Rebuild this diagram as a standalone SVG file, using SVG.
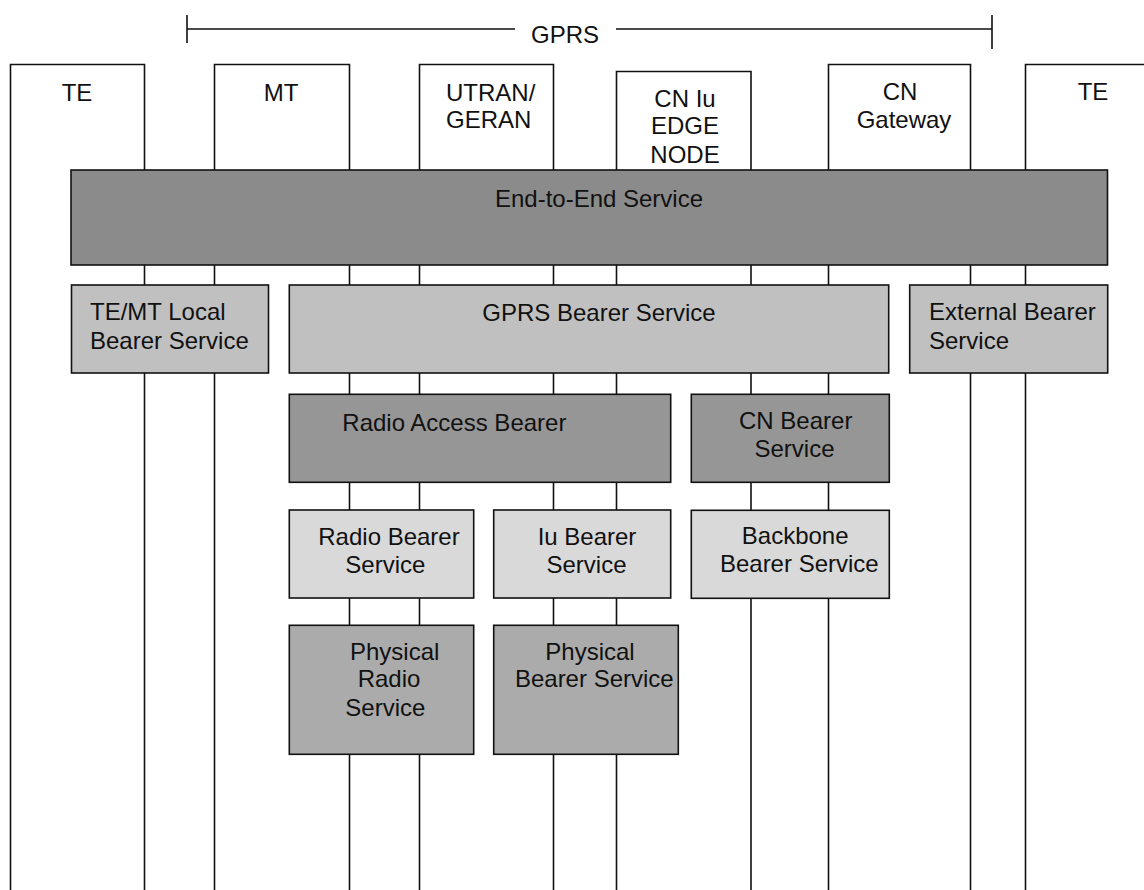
<svg xmlns="http://www.w3.org/2000/svg" width="1144" height="890" viewBox="0 0 1144 890">
<style>
.col{fill:none;stroke:#111;stroke-width:1.6}
.box{stroke:#111;stroke-width:1.6}
.dark{fill:#8b8b8b}
.mid{fill:#969696}
.light{fill:#c0c0c0}
.pale{fill:#d9d9d9}
.phys{fill:#ababab}
text{font-family:"Liberation Sans",Arial,sans-serif;font-size:24px;fill:#111}
.c{text-anchor:middle}
</style>
<rect width="1144" height="890" fill="#fff"/>
<g id="gprs-span">
<path class="col" d="M187,15 V43 M187,29 H515 M616,29 H992 M992,15 V49"/>
<text class="c" x="565" y="43">GPRS</text>
</g>
<g id="columns">
<g id="te-left"><path class="col" d="M10.5,890 V64.5 H144.5 V890"/><text class="c" x="77" y="101">TE</text></g>
<g id="mt"><path class="col" d="M214.5,890 V64.5 H349.5 V890"/><text class="c" x="281" y="101">MT</text></g>
<g id="utran"><path class="col" d="M419.5,890 V64.5 H553.5 V890"/><text x="446" y="101">UTRAN/</text><text x="446" y="128">GERAN</text></g>
<g id="cn-iu"><path class="col" d="M616.5,890 V71.5 H751 V890"/><text class="c" x="685" y="107">CN Iu</text><text class="c" x="685" y="134">EDGE</text><text class="c" x="685" y="162.5">NODE</text></g>
<g id="cn-gateway"><path class="col" d="M828.5,890 V64.5 H970.5 V890"/><text class="c" x="900" y="100">CN</text><text class="c" x="904" y="128">Gateway</text></g>
<g id="te-right"><path class="col" d="M1025.5,890 V64.5 H1146"/><text class="c" x="1093" y="100">TE</text></g>
</g>
<g id="end-to-end"><rect class="box dark" x="71" y="170" width="1036.5" height="95"/><text class="c" x="599" y="207">End-to-End Service</text></g>
<g id="te-mt-local"><rect class="box light" x="71.5" y="285" width="197" height="88"/><text x="90" y="320">TE/MT Local</text><text x="90" y="348.5">Bearer Service</text></g>
<g id="gprs-bearer"><rect class="box light" x="289.3" y="285" width="599.4" height="88"/><text class="c" x="599" y="320.5">GPRS Bearer Service</text></g>
<g id="external-bearer"><rect class="box light" x="909.7" y="285" width="198" height="88"/><text x="929" y="320">External Bearer</text><text x="929" y="348.5">Service</text></g>
<g id="radio-access-bearer"><rect class="box mid" x="289.3" y="394.3" width="381.4" height="88"/><text x="342.3" y="430.5">Radio Access Bearer</text></g>
<g id="cn-bearer"><rect class="box mid" x="691.3" y="394.3" width="198" height="88"/><text class="c" x="795.7" y="429">CN Bearer</text><text class="c" x="794.5" y="457.3">Service</text></g>
<g id="radio-bearer"><rect class="box pale" x="289.3" y="510" width="184.4" height="88"/><text class="c" x="389" y="545">Radio Bearer</text><text class="c" x="385.3" y="572.7">Service</text></g>
<g id="iu-bearer"><rect class="box pale" x="493.7" y="510" width="177" height="88"/><text class="c" x="587" y="545">Iu Bearer</text><text class="c" x="586.5" y="572.7">Service</text></g>
<g id="backbone-bearer"><rect class="box pale" x="691.3" y="510.3" width="198" height="88"/><text class="c" x="795.2" y="544.3">Backbone</text><text class="c" x="799.3" y="571.7">Bearer Service</text></g>
<g id="physical-radio"><rect class="box phys" x="289.3" y="625.3" width="184.4" height="129"/><text class="c" x="394.7" y="660">Physical</text><text class="c" x="389" y="687.3">Radio</text><text class="c" x="385.3" y="716">Service</text></g>
<g id="physical-bearer"><rect class="box phys" x="493.7" y="625.3" width="184.6" height="129"/><text class="c" x="590" y="660">Physical</text><text class="c" x="594.3" y="687.3">Bearer Service</text></g>
</svg>
